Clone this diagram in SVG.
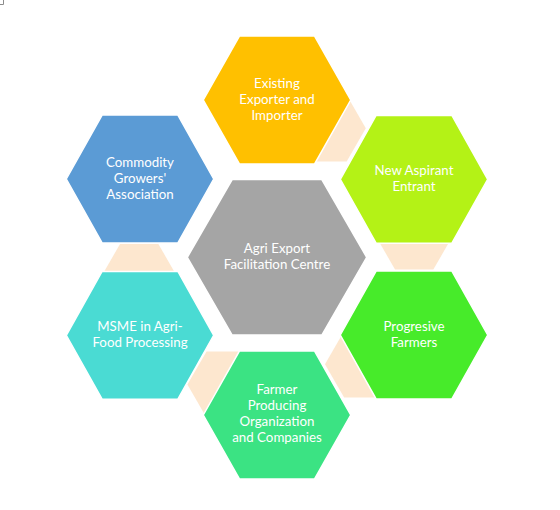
<svg xmlns="http://www.w3.org/2000/svg" width="560" height="510" viewBox="0 0 560 510">
<style>
.hex{stroke:#ffffff;stroke-width:1.5;stroke-linejoin:miter}
.conn{fill:#FDE7CF;stroke:none}
.lbl{font-family:Lato,"Liberation Sans",sans-serif;font-size:13.3px;fill:#ffffff;text-anchor:middle}
</style>
<rect width="560" height="510" fill="#ffffff"/>
<path d="M0 4.5H3.5V0" fill="none" stroke="#8c8c8c" stroke-width="1"/>
<g id="connectors">
<polygon class="conn" points="289.2,128.3 308.35,95.1 346.65,95.1 365.8,128.3 346.65,161.5 308.35,161.5"/>
<polygon class="conn" points="375.9,236.3 395.05,203.1 433.35,203.1 452.5,236.3 433.35,269.5 395.05,269.5"/>
<polygon class="conn" points="325,364.3 344.15,331.1 382.45,331.1 401.6,364.3 382.45,397.5 344.15,397.5"/>
<polygon class="conn" points="187.4,384.6 206.55,351.4 244.85,351.4 264,384.6 244.85,417.8 206.55,417.8"/>
<polygon class="conn" points="100.9,277.2 120.05,244 158.35,244 177.5,277.2 158.35,310.4 120.05,310.4"/>
</g>
<g id="existing">
<polygon class="hex" fill="#FFC000" points="203.3,100 239.4,36.1 314.6,36.1 350.7,100 314.6,163.9 239.4,163.9"/>
<text class="lbl"><tspan x="277" y="88.3">Existing</tspan><tspan x="277" y="104.3">Exporter and</tspan><tspan x="277" y="120.3">Importer</tspan></text>
</g>
<g id="commodity">
<polygon class="hex" fill="#5B9BD5" points="66.3,179 102.1,115.1 177.9,115.1 213.7,179 177.9,242.9 102.1,242.9"/>
<text class="lbl"><tspan x="140" y="167.3">Commodity</tspan><tspan x="140" y="183.3">Growers'</tspan><tspan x="140" y="199.3">Association</tspan></text>
</g>
<g id="new-aspirant">
<polygon class="hex" fill="#B4F216" points="340.3,179.3 376.1,115.4 451.9,115.4 487.7,179.3 451.9,243.2 376.1,243.2"/>
<text class="lbl"><tspan x="414" y="175.3">New Aspirant</tspan><tspan x="414" y="191.3">Entrant</tspan></text>
</g>
<g id="progresive">
<polygon class="hex" fill="#47EB2A" points="340.3,335 376.1,271.1 451.9,271.1 487.7,335 451.9,398.9 376.1,398.9"/>
<text class="lbl"><tspan x="414" y="331">Progresive</tspan><tspan x="414" y="347">Farmers</tspan></text>
</g>
<g id="msme">
<polygon class="hex" fill="#4ADBD3" points="66.3,335.3 102.1,271.4 177.9,271.4 213.7,335.3 177.9,399.2 102.1,399.2"/>
<text class="lbl"><tspan x="140" y="331">MSME in Agri-</tspan><tspan x="140" y="347">Food Processing</tspan></text>
</g>
<g id="farmer">
<polygon class="hex" fill="#3BE383" points="203.3,415 239.4,351.1 314.6,351.1 350.7,415 314.6,478.9 239.4,478.9"/>
<text class="lbl"><tspan x="277" y="394.3">Farmer</tspan><tspan x="277" y="410.3">Producing</tspan><tspan x="277" y="426.3">Organization</tspan><tspan x="277" y="442.3">and Companies</tspan></text>
</g>
<g id="centre">
<polygon class="hex" fill="#A5A5A5" points="187.3,257.3 232.15,179.6 321.85,179.6 366.7,257.3 321.85,335 232.15,335"/>
<text class="lbl"><tspan x="277" y="253.3">Agri Export</tspan><tspan x="277" y="269.3">Facilitation Centre</tspan></text>
</g>
</svg>
